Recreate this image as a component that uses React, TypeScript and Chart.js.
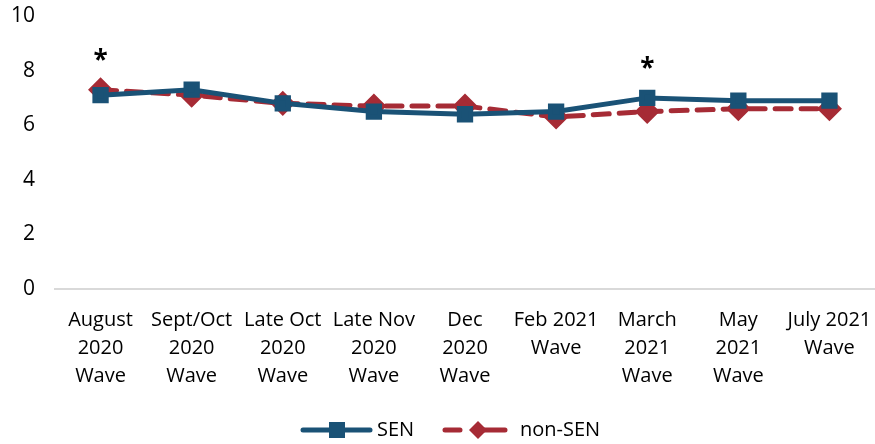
import React, { useEffect, useRef } from "react";
import { Chart, registerables } from "chart.js";

Chart.register(...registerables);

const categories: string[][] = [
  ["August", "2020", "Wave"],
  ["Sept/Oct", "2020", "Wave"],
  ["Late Oct", "2020", "Wave"],
  ["Late Nov", "2020", "Wave"],
  ["Dec", "2020", "Wave"],
  ["Feb 2021", "Wave"],
  ["March", "2021", "Wave"],
  ["May", "2021", "Wave"],
  ["July 2021", "Wave"],
];
const senValues = [7.1, 7.3, 6.8, 6.5, 6.4, 6.5, 7.0, 6.9, 6.9];
const nonSenValues = [7.3, 7.1, 6.8, 6.7, 6.7, 6.3, 6.5, 6.6, 6.6];
const significance = ["*", "", "", "", "", "", "*", "", ""];

const SEN_COLOR = "#1A5276";
const NON_COLOR = "#A62B35";
const FONT = "'Open Sans', sans-serif";

export default function App() {
  const ref = useRef<HTMLCanvasElement | null>(null);
  useEffect(() => {
    document.body.style.margin = "0";
    const starPlugin = {
      id: "stars",
      afterDatasetsDraw(chart: any) {
        const ctx = chart.ctx;
        const xs = chart.scales.x;
        const ys = chart.scales.y;
        ctx.save();
        ctx.fillStyle = "#000";
        ctx.font = `bold 26px ${FONT}`;
        ctx.textAlign = "center";
        ctx.textBaseline = "middle";
        significance.forEach((s, i) => {
          if (!s) return;
          const v = Math.max(senValues[i], nonSenValues[i]);
          ctx.fillText(s, xs.getPixelForValue(i), ys.getPixelForValue(v) - 28);
        });
        ctx.restore();
      },
    };
    const legendPlugin = {
      id: "customLegend",
      afterDraw(chart: any) {
        const ctx = chart.ctx;
        const y = 430;
        ctx.save();
        ctx.font = `20px ${FONT}`;
        ctx.textBaseline = "middle";
        ctx.textAlign = "left";
        ctx.strokeStyle = SEN_COLOR;
        ctx.lineWidth = 5;
        ctx.lineCap = "round";
        ctx.beginPath();
        ctx.moveTo(303, y);
        ctx.lineTo(370, y);
        ctx.stroke();
        ctx.fillStyle = SEN_COLOR;
        ctx.fillRect(329, y - 8, 16, 16);
        ctx.fillStyle = "#000";
        ctx.fillText("SEN", 377, y);
        ctx.strokeStyle = NON_COLOR;
        ctx.beginPath();
        ctx.moveTo(445, y);
        ctx.lineTo(460, y);
        ctx.moveTo(475, y);
        ctx.lineTo(505, y);
        ctx.stroke();
        ctx.fillStyle = NON_COLOR;
        ctx.beginPath();
        ctx.moveTo(478, y - 9);
        ctx.lineTo(487, y);
        ctx.lineTo(478, y + 9);
        ctx.lineTo(469, y);
        ctx.closePath();
        ctx.fill();
        ctx.fillStyle = "#000";
        ctx.fillText("non-SEN", 520, y);
        ctx.restore();
      },
    };
    const chart = new Chart(ref.current!, {
      type: "line",
      data: {
        labels: categories,
        datasets: [
          {
            label: "SEN",
            data: senValues,
            borderColor: SEN_COLOR,
            backgroundColor: SEN_COLOR,
            borderWidth: 5,
            pointStyle: "rect",
            pointRadius: 8,
            pointHoverRadius: 8,
            tension: 0,
          },
          {
            label: "non-SEN",
            data: nonSenValues,
            borderColor: NON_COLOR,
            backgroundColor: NON_COLOR,
            borderWidth: 5,
            borderDash: [16, 10],
            borderCapStyle: "round",
            pointStyle: "rectRot",
            pointRadius: 9,
            pointHoverRadius: 9,
            tension: 0,
          },
        ],
      },
      options: {
        animation: false,
        responsive: false,
        maintainAspectRatio: false,
        layout: { autoPadding: false, padding: { left: 0, right: 0, top: 0, bottom: 37 } },
        plugins: {
          legend: { display: false },
          tooltip: { enabled: false },
        },
        scales: {
          x: {
            offset: true,
            grid: { display: false, drawTicks: false, offset: true },
            border: { display: true, color: "#D9D9D9", width: 2 },
            ticks: {
              color: "#000",
              font: { family: FONT, size: 20, lineHeight: 1.4 },
              padding: 17,
              maxRotation: 0,
              autoSkip: false,
            },
            afterFit(scale: any) {
              scale.paddingLeft = 0;
              scale.paddingRight = 0;
            },
          },
          y: {
            min: 0,
            max: 10,
            grid: { display: false, drawTicks: false },
            border: { display: false },
            ticks: {
              stepSize: 2,
              color: "#000",
              font: { family: FONT, size: 21 },
              padding: 20,
            },
            afterFit(scale: any) {
              scale.width = 55;
              scale.paddingTop = 16;
              scale.paddingBottom = 0;
            },
          },
        },
      },
      plugins: [starPlugin, legendPlugin],
    });
    return () => chart.destroy();
  }, []);
  return <canvas ref={ref} width={875} height={444} style={{ display: "block" }} />;
}
